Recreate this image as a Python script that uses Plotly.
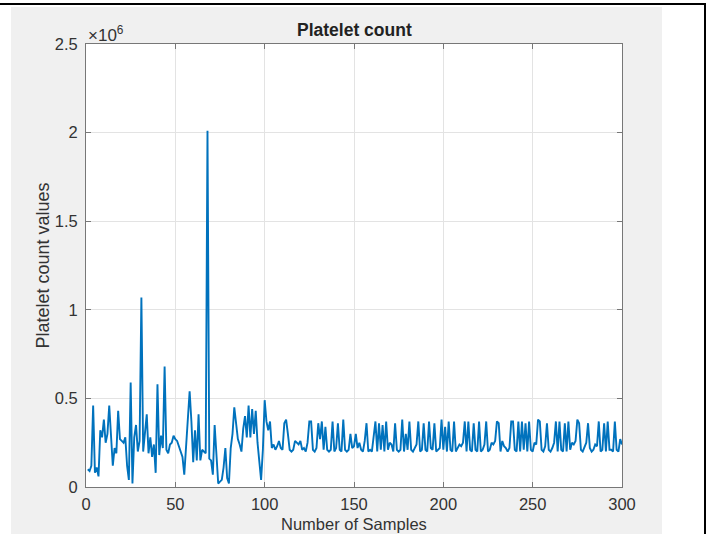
import plotly.graph_objects as go

# Platelet count values (in thousands), samples 1..300
platelet_k = [
    100, 90, 120, 460, 80, 110, 60, 320, 280, 380,
    250, 300, 460, 270, 120, 220, 190, 430, 270, 260,
    250, 280, 120, 40, 590, 20, 280, 350, 200, 260,
    1070, 200, 290, 410, 190, 280, 170, 240, 80, 580,
    180, 290, 220, 680, 210, 190, 240, 250, 290, 270,
    260, 230, 200, 170, 70, 220, 350, 540, 370, 140,
    320, 150, 410, 150, 210, 200, 190, 2010, 160, 150,
    70, 350, 210, 20, 30, 40, 110, 220, 50, 20,
    220, 300, 450, 360, 270, 240, 200, 330, 400, 280,
    460, 280, 440, 300, 430, 250, 150, 40, 210, 490,
    370, 320, 370, 220, 240, 210, 230, 260, 220, 210,
    360, 380, 300, 210, 200, 210, 260, 250, 240, 260,
    210, 220, 200, 250, 370, 370, 210, 200, 220, 360,
    270, 370, 210, 340, 210, 200, 210, 370, 200, 220,
    360, 210, 200, 380, 210, 200, 210, 300, 220, 230,
    300, 220, 250, 210, 200, 260, 360, 200, 210, 200,
    300, 370, 200, 360, 210, 350, 200, 370, 210, 250,
    240, 200, 360, 210, 200, 210, 380, 200, 300, 210,
    370, 210, 200, 220, 240, 370, 200, 210, 360, 210,
    200, 370, 220, 210, 360, 200, 210, 220, 380, 210,
    340, 200, 370, 210, 200, 370, 200, 220, 240, 230,
    250, 370, 200, 370, 210, 200, 360, 210, 200, 370,
    200, 210, 240, 370, 200, 210, 250, 240, 260, 370,
    360, 200, 260, 230, 220, 200, 220, 370, 370, 210,
    200, 370, 200, 370, 210, 360, 200, 370, 210, 200,
    250, 240, 380, 370, 210, 200, 230, 360, 210, 200,
    220, 250, 370, 200, 370, 210, 200, 360, 200, 370,
    210, 250, 240, 260, 380, 360, 210, 200, 230, 250,
    360, 220, 200, 210, 240, 230, 370, 200, 210, 360,
    200, 370, 210, 210, 200, 370, 210, 200, 270, 240,
]
samples = list(range(1, len(platelet_k) + 1))
platelet = [v * 1000 for v in platelet_k]

x_ticks = [0, 50, 100, 150, 200, 250, 300]
y_tickvals = [0, 500000, 1000000, 1500000, 2000000, 2500000]
y_ticktext = ["0", "0.5", "1", "1.5", "2", "2.5"]

# plot area in pixels
L, R, T, B = 86, 622, 44, 487
W, H = 716, 534
pw, ph = R - L, B - T

def px(x):
    return (x - L) / pw

def py(y):
    return (B - y) / ph

fig = go.Figure()
fig.add_trace(go.Scatter(
    x=samples, y=platelet, mode="lines",
    line=dict(color="#0072BD", width=1.9),
    showlegend=False, hoverinfo="skip",
))

font_family = "Liberation Sans, Arial, sans-serif"
txt_color = "#333333"
axis_common = dict(
    showgrid=True, gridcolor="#e3e3e3", gridwidth=1,
    showline=True, linecolor="#777777", linewidth=1,
    mirror="allticks", ticks="inside", ticklen=5, tickcolor="#777777",
    zeroline=False, automargin=False,
    tickfont=dict(family=font_family, size=16.5, color=txt_color),
)

fig.update_layout(
    width=W, height=H,
    margin=dict(l=L, r=W - R, t=T, b=H - B, pad=0),
    paper_bgcolor="white",
    plot_bgcolor="white",
    font=dict(family=font_family),
    xaxis=dict(
        range=[0, 300], tickvals=x_ticks,
        ticktext=[str(t) for t in x_ticks],
        ticklabelstandoff=2,
        **axis_common,
    ),
    yaxis=dict(
        range=[0, 2500000], tickvals=y_tickvals, ticktext=y_ticktext,
        ticklabelstandoff=4,
        title=dict(text="Platelet count values", standoff=0,
                   font=dict(family=font_family, size=18, color=txt_color)),
        **axis_common,
    ),
    shapes=[
        dict(type="rect", xref="paper", yref="paper", layer="below",
             x0=px(11), x1=px(662), y0=py(W), y1=py(7),
             fillcolor="#f0f0f0", line=dict(width=0)),
        dict(type="rect", xref="paper", yref="paper", layer="below",
             x0=0, x1=1, y0=0, y1=1,
             fillcolor="white", line=dict(width=0)),
        dict(type="line", xref="paper", yref="paper",
             x0=px(0), x1=px(706), y0=py(4), y1=py(4),
             line=dict(color="black", width=2)),
        dict(type="line", xref="paper", yref="paper",
             x0=px(705), x1=px(705), y0=py(3), y1=py(540),
             line=dict(color="black", width=2)),
    ],
    annotations=[
        dict(text="<b>Platelet count</b>", xref="paper", yref="paper",
             x=0.5, y=py(30), xanchor="center", yanchor="middle",
             showarrow=False,
             font=dict(family=font_family, size=17.5, color="#222222")),
        dict(text="×10<sup>6</sup>", xref="paper", yref="paper",
             x=px(86), y=py(34), xanchor="left", yanchor="middle",
             showarrow=False,
             font=dict(family=font_family, size=17, color=txt_color)),
        dict(text="Number of Samples", xref="paper", yref="paper",
             x=0.5, y=py(524), xanchor="center", yanchor="middle",
             showarrow=False,
             font=dict(family=font_family, size=16.5, color=txt_color)),
    ],
)

fig.write_html("out.html")
